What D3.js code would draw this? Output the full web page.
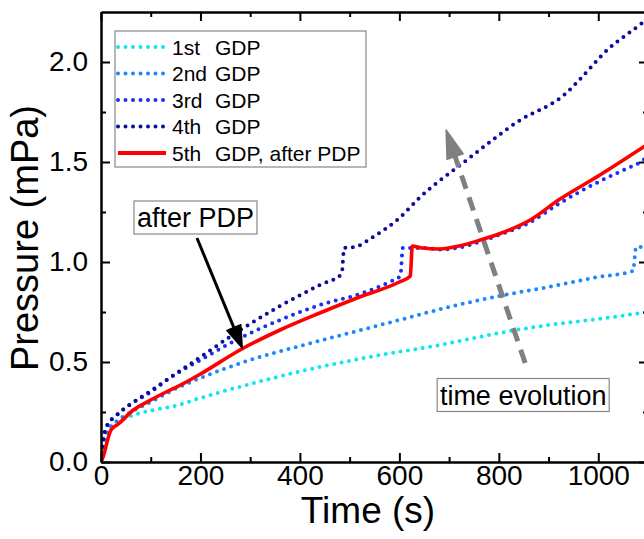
<!DOCTYPE html>
<html>
<head>
<meta charset="utf-8">
<script src="https://cdn.jsdelivr.net/npm/d3@7"></script>
<style>
  body { margin: 0; background: #fff; }
  svg { font-family: "Liberation Sans", Arial, sans-serif; }
  .axis path, .axis line { stroke: #000; stroke-width: 2; }
  .axis text { font-size: 28px; fill: #000; }
  .dots { fill: none; stroke-width: 4; stroke-linecap: round; stroke-dasharray: 0 7.5; }
</style>
</head>
<body>
<svg id="chart" width="644" height="539"></svg>
<script>
// values: [time (s), pressure (mPa)]
const gdp1 = [[0,0],[5,0.08],[12,0.14],[25,0.19],[50,0.22],[80,0.245],[155,0.285],[200,0.32],[300,0.39],[440,0.475],[550,0.53],[682,0.585],[800,0.645],[900,0.685],[1000,0.715],[1100,0.75]];
const gdp2 = [[0,0],[5,0.09],[12,0.15],[30,0.2],[60,0.25],[100,0.3],[153,0.37],[200,0.42],[300,0.51],[400,0.58],[500,0.645],[600,0.71],[700,0.775],[800,0.83],[900,0.875],[1000,0.925],[1070,0.955],[1076,1.075],[1100,1.075]];
const gdp3 = [[0,0],[4,0.1],[12,0.18],[30,0.23],[60,0.29],[100,0.35],[138,0.42],[200,0.51],[280,0.62],[360,0.71],[440,0.785],[520,0.84],[580,0.9],[602,0.93],[607,1.07],[650,1.07],[682,1.062],[720,1.072],[760,1.1],[800,1.135],[860,1.195],[920,1.29],[1000,1.4],[1060,1.47],[1085,1.5],[1100,1.53]];
const gdp4 = [[0,0],[4,0.1],[12,0.18],[30,0.23],[60,0.29],[100,0.355],[138,0.42],[200,0.525],[280,0.66],[360,0.78],[440,0.885],[484,0.94],[489,1.07],[510,1.075],[550,1.13],[600,1.22],[642,1.325],[728,1.495],[837,1.7],[938,1.85],[958,1.9],[1018,2.06],[1088,2.195],[1100,2.22]];
const gdp5 = [[0,0],[4,0.025],[20,0.16],[35,0.19],[65,0.26],[100,0.31],[139,0.36],[160,0.385],[200,0.44],[283,0.565],[360,0.66],[440,0.745],[520,0.825],[600,0.9],[622,0.93],[626,1.08],[645,1.07],[682,1.065],[720,1.08],[763,1.11],[800,1.14],[863,1.21],[920,1.31],[1000,1.43],[1100,1.59]];

const seriesNames = ["1st", "2nd", "3rd", "4th", "5th"];
const seriesTails = ["GDP", "GDP", "GDP", "GDP", "GDP, after PDP"];
const seriesColors = ["#10e6f0", "#1a88ff", "#1a30f0", "#0c0c9c", "#ff0000"];
const xMajor = [0, 200, 400, 600, 800, 1000];
const yMajor = [0, 0.5, 1.0, 1.5, 2.0];

const svg = d3.select("svg#chart");
const margin = { top: 12, left: 101 };
const plotW = 547;
const plotH = 450;

const x = d3.scaleLinear([0, 1100], [margin.left, margin.left + plotW]);
const y = d3.scaleLinear([0, 2.25], [margin.top + plotH, margin.top]);

svg.append("clipPath").attr("id", "clip")
  .append("rect")
  .attr("x", margin.left).attr("y", margin.top)
  .attr("width", plotW).attr("height", plotH);

let chartArea = svg.append("g").attr("clip-path", "url(#clip)");

let gen = d3.line((d) => x(d[0]), (d) => y(d[1])).curve(d3.curveMonotoneX);

[gdp1, gdp2, gdp3, gdp4].forEach((s, i) => {
  chartArea.append("path").datum(s)
    .attr("class", "dots")
    .attr("stroke", seriesColors[i])
    .attr("d", gen);
});
chartArea.append("path").datum(gdp5)
  .attr("fill", "none")
  .attr("stroke", seriesColors[4])
  .attr("stroke-width", 3.6)
  .attr("d", gen);

// axes, ticks pointing inward
const xMinor = d3.range(100, 1100, 200);
const yMinor = d3.range(0.25, 2.25, 0.5);
const yBottom = y.range()[0], yTop = y.range()[1];
const xLeft = x.range()[0], xRight = x.range()[1];

let axes = svg.append("g");
axes.append("g").attr("class", "axis")
  .attr("transform", `translate(0,${yBottom})`)
  .call(d3.axisBottom(x).tickValues(xMajor).tickSize(-9).tickSizeOuter(0).tickPadding(3).tickFormat(d3.format("d")));
axes.append("g").attr("class", "axis")
  .attr("transform", `translate(0,${yBottom})`)
  .call(d3.axisBottom(x).tickValues(xMinor).tickSize(-5).tickSizeOuter(0).tickFormat(""));
axes.append("g").attr("class", "axis")
  .attr("transform", `translate(0,${yTop})`)
  .call(d3.axisTop(x).tickValues(xMajor).tickSize(-9).tickSizeOuter(0).tickFormat(""));
axes.append("g").attr("class", "axis")
  .attr("transform", `translate(0,${yTop})`)
  .call(d3.axisTop(x).tickValues(xMinor).tickSize(-5).tickSizeOuter(0).tickFormat(""));
axes.append("g").attr("class", "axis")
  .attr("transform", `translate(${xLeft},0)`)
  .call(d3.axisLeft(y).tickValues(yMajor).tickSize(-9).tickSizeOuter(0).tickPadding(13).tickFormat(d3.format(".1f")));
axes.append("g").attr("class", "axis")
  .attr("transform", `translate(${xLeft},0)`)
  .call(d3.axisLeft(y).tickValues(yMinor).tickSize(-5).tickSizeOuter(0).tickFormat(""));
axes.append("g").attr("class", "axis")
  .attr("transform", `translate(${xRight},0)`)
  .call(d3.axisRight(y).tickValues(yMajor).tickSize(-9).tickSizeOuter(0).tickFormat(""));
axes.append("g").attr("class", "axis")
  .attr("transform", `translate(${xRight},0)`)
  .call(d3.axisRight(y).tickValues(yMinor).tickSize(-5).tickSizeOuter(0).tickFormat(""));

svg.append("text")
  .attr("x", 368).attr("y", 523)
  .attr("text-anchor", "middle")
  .attr("font-size", 37)
  .text("Time (s)");
svg.append("text")
  .attr("transform", "translate(38,238) rotate(-90)")
  .attr("text-anchor", "middle")
  .attr("font-size", 38)
  .text("Pressure (mPa)");

// legend
let legend = svg.append("g").attr("transform", "translate(115,31)");
legend.append("rect")
  .attr("width", 251).attr("height", 136)
  .attr("fill", "#fff").attr("stroke", "#888").attr("stroke-width", 1.2);
seriesNames.forEach((name, i) => {
  const ly = 16 + i * 26.5;
  legend.append("line")
    .attr("x1", 3).attr("x2", 51).attr("y1", ly).attr("y2", ly)
    .attr("class", i < 4 ? "dots" : null)
    .attr("stroke", seriesColors[i])
    .attr("stroke-width", 4);
  legend.append("text").attr("x", 57).attr("y", ly + 7.5).attr("font-size", 21).text(name);
  legend.append("text").attr("x", 100).attr("y", ly + 7.5).attr("font-size", 21).text(seriesTails[i]);
});

// annotation helpers
function arrowHead(g, tip, from, len, half, color) {
  const dx = tip[0] - from[0], dy = tip[1] - from[1];
  const l = Math.hypot(dx, dy), ux = dx / l, uy = dy / l;
  const bx = tip[0] - ux * len, by = tip[1] - uy * len;
  g.append("polygon")
    .attr("points", [tip, [bx - uy * half, by + ux * half], [bx + uy * half, by - ux * half]].map((p) => p.join(",")).join(" "))
    .attr("fill", color)
    .attr("stroke", color)
    .attr("stroke-linejoin", "round")
    .attr("stroke-width", 1.5);
  return [bx, by];
}

function labelBox(g, cx, cy, label, w) {
  g.append("rect")
    .attr("x", cx - w / 2).attr("y", cy - 16.5)
    .attr("width", w).attr("height", 33)
    .attr("fill", "#fff").attr("stroke", "#888").attr("stroke-width", 1.2);
  g.append("text")
    .attr("x", cx).attr("y", cy + 9.5)
    .attr("text-anchor", "middle")
    .attr("font-size", 27)
    .text(label);
}

let notes = svg.append("g");

// "after PDP" arrow
const pdpFrom = [x(193), y(1.12)], pdpTip = [x(284), y(0.57)];
const pdpBase = arrowHead(notes, pdpTip, pdpFrom, 22, 7.5, "#000");
notes.append("line")
  .attr("x1", pdpFrom[0]).attr("y1", pdpFrom[1])
  .attr("x2", pdpBase[0]).attr("y2", pdpBase[1])
  .attr("stroke", "#000").attr("stroke-width", 3);
labelBox(notes, x(190), y(1.2225), "after PDP", 123);

// "time evolution" arrow
const evFrom = [x(853), y(0.495)], evTip = [x(694), y(1.66)];
const evBase = arrowHead(notes, evTip, evFrom, 28, 8.5, "#808080");
notes.append("line")
  .attr("x1", evFrom[0]).attr("y1", evFrom[1])
  .attr("x2", evBase[0]).attr("y2", evBase[1])
  .attr("stroke", "#808080").attr("stroke-width", 5)
  .attr("stroke-dasharray", "14 9");
labelBox(notes, x(849), y(0.335), "time evolution", 172);
</script>
</body>
</html>
